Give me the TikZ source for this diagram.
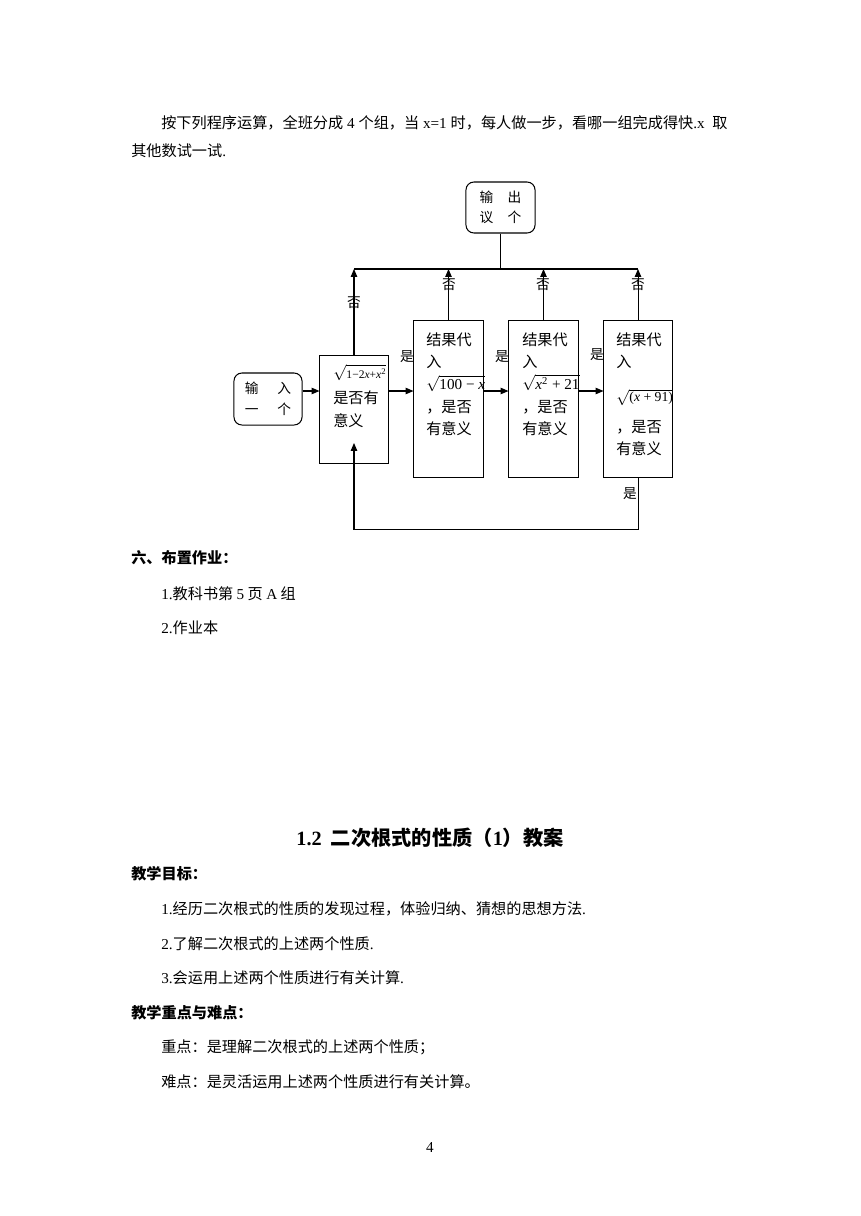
\documentclass[tikz,border=0pt]{standalone}
\usepackage{fontspec}
\setmainfont{Noto Sans CJK SC}
\newfontfamily\tnr{Liberation Serif}
\usetikzlibrary{arrows.meta}

\begin{document}
\begin{tikzpicture}[x=0.6922pt,y=-0.6922pt,
		caja/.style={draw,line width=0.7pt,inner sep=0pt},
		cuadro/.style={anchor=north west,align=left,inner sep=0pt,font=\fontsize{10.5}{15.5}\selectfont},
		texto/.style={anchor=west,inner sep=0pt,font=\fontsize{10.5}{12}\selectfont},
		titulo/.style={texto,font=\fontsize{10.5}{12}\selectfont\bfseries},
		etiqueta/.style={inner sep=0pt,font=\fontsize{9.5}{11}\selectfont},
		flecha/.style={-{Triangle[length=5.5pt,width=4.5pt]},line width=0.7pt},
		linea/.style={line width=0.7pt}]
		% Marco de la pagina
		\useasboundingbox (0,0) rectangle (860,1216);

		% Texto de arriba
		\node[texto] (l1) at (161,123) {\makebox[392pt][s]{按下列程序运算，全班分成 {\tnr 4} 个组，当 {\tnr x=1} 时，每人做一步，看哪一组完成得快{\tnr .x}\ \ 取}};
		\node[texto] (l2) at (131,151) {其他数试一试{\tnr .}};

		% Cajas del diagrama
		\node[caja,rounded corners=5.5pt,minimum width=47.1pt,minimum height=36pt,align=center,font=\fontsize{9.5}{14.5}\selectfont] (entrada) at (268,399) {输\hspace{13pt}入\\一\hspace{13pt}个};
		\node[caja,rounded corners=5.5pt,minimum width=47.8pt,minimum height=35.3pt,align=center,font=\fontsize{9.5}{14}\selectfont] (salida) at (500.5,207.5) {输\hspace{10pt}出\\议\hspace{10pt}个};
		\node[caja,minimum width=47.1pt,minimum height=75.4pt] (caja1) at (354,409.5) {};
		\node[caja,minimum width=47.8pt,minimum height=108pt] (caja2) at (448.5,399) {};
		\node[caja,minimum width=47.8pt,minimum height=108pt] (caja3) at (543.5,399) {};
		\node[caja,minimum width=47.1pt,minimum height=108pt] (caja4) at (638,399) {};

		% Texto dentro de las cajas
		\node[cuadro] (q1) at (333,364) {$\sqrt{\hbox{\tnr\fontsize{8}{9}\selectfont 1−2\textit{x}+\textit{x}\textsuperscript{2}}}$\\[2pt]是否有\\意义};
		\node[cuadro] (q2) at (426,332) {结果代\\入\\$\sqrt{\hbox{\tnr 100 − \textit{x}}}$\\，是否\\有意义};
		\node[cuadro] (q3) at (522,332) {结果代\\入\\$\sqrt{\hbox{\tnr\textit{x}\textsuperscript{2} + 21}}$\\，是否\\有意义};
		\node[cuadro] (q4) at (616,332) {结果代\\入\\[8pt]$\sqrt{\hbox{\tnr\fontsize{9.5}{10}\selectfont(\textit{x} + 91)}}$\\[6pt]，是否\\有意义};

		% Etiquetas si / no
		\node[etiqueta] (no1) at (354,303) {否};
		\node[etiqueta] (no2) at (449,285) {否};
		\node[etiqueta] (no3) at (543,285) {否};
		\node[etiqueta] (no4) at (638,285) {否};
		\node[etiqueta] (si1) at (407,357) {是};
		\node[etiqueta] (si2) at (502,357) {是};
		\node[etiqueta] (si3) at (597,355) {是};
		\node[etiqueta] (si4) at (630,494) {是};

		% Lineas y flechas
		\coordinate (bus) at (0,269);
		\coordinate (fl) at (0,391);
		\coordinate (abajo) at (0,529);
		\coordinate (punta) at (0,443);
		\draw[linea] (salida.south) -- (salida.south |- bus);
		\draw[linea] (caja1.north |- bus) -- (caja4.north |- bus);
		\draw[flecha] (caja1.north) -- (caja1.north |- bus);
		\draw[flecha] (caja2.north) -- (caja2.north |- bus);
		\draw[flecha] (caja3.north) -- (caja3.north |- bus);
		\draw[flecha] (caja4.north) -- (caja4.north |- bus);
		\draw[flecha] (entrada.east |- fl) -- (caja1.west |- fl);
		\draw[flecha] (caja1.east |- fl) -- (caja2.west |- fl);
		\draw[flecha] (caja2.east |- fl) -- (caja3.west |- fl);
		\draw[flecha] (caja3.east |- fl) -- (caja4.west |- fl);
		\draw[flecha] (caja4.south) -- (caja4.south |- abajo) -- (caja1.south |- abajo) -- (caja1.south |- punta); % vuelta al inicio

		% Texto de abajo
		\node[titulo] (h1) at (131,558) {六、布置作业：};
		\node[texto] (i1) at (161,594) {{\tnr 1.}教科书第 {\tnr 5} 页 {\tnr A} 组};
		\node[texto] (i2) at (161,628) {{\tnr 2.}作业本};
		\node[inner sep=0pt,font=\fontsize{14}{16}\selectfont\bfseries] (tit) at (430,838) {{\tnr\bfseries 1.2}\ \ 二次根式的性质（{\tnr\bfseries 1}）教案};
		\node[titulo] (h2) at (131,874) {教学目标：};
		\node[texto] (j1) at (161,909) {{\tnr 1.}经历二次根式的性质的发现过程，体验归纳、猜想的思想方法{\tnr .}};
		\node[texto] (j2) at (161,944) {{\tnr 2.}了解二次根式的上述两个性质{\tnr .}};
		\node[texto] (j3) at (161,978) {{\tnr 3.}会运用上述两个性质进行有关计算{\tnr .}};
		\node[titulo] (h3) at (131,1013) {教学重点与难点：};
		\node[texto] (j4) at (161,1047) {重点：是理解二次根式的上述两个性质；};
		\node[texto] (j5) at (161,1082) {难点：是灵活运用上述两个性质进行有关计算。};
		\node[texto,anchor=center] (pag) at (430,1147) {{\tnr 4}};
	\end{tikzpicture}
\end{document}
